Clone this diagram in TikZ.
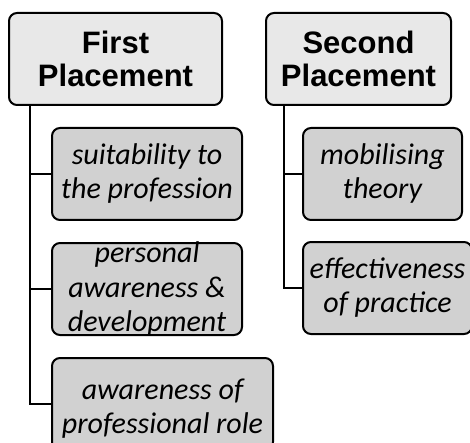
\documentclass[tikz,border=0pt]{standalone}
\usepackage{fontspec}
\setmainfont{Carlito}
\newfontfamily\headfont{Liberation Sans}
\usepackage{tikz}
\usetikzlibrary{positioning}

\begin{document}
\begin{tikzpicture}[x=1pt, y=-1pt,
    placement/.style={draw=black, line width=2pt, rounded corners=8pt,
      fill=black!9, minimum height=92pt, inner sep=0pt, align=center,
      font=\fontsize{31}{33}\selectfont\headfont\bfseries},
    theme/.style={draw=black, line width=2pt, rounded corners=8pt,
      fill=black!18, minimum height=92pt, inner sep=0pt},
    themetext/.style={align=center, inner sep=0pt, text=black,
      font=\fontsize{30}{34}\selectfont\itshape},
    branch/.style={line width=2.2pt}]
  \clip (0,0) rectangle (470,443);

  % placements
  \node[placement, minimum width=213pt] (first) at (115.5,59) {First\\Placement};
  \node[placement, minimum width=185pt] (second) at (358.5,59) {Second\\Placement};

  % themes, first placement
  \node[theme, minimum width=190pt] (suit) at (147,174) {};
  \node[theme, minimum width=190pt] (aware) at (147,289) {};
  \node[theme, minimum width=221pt] (role) at (162.5,404) {};

  % themes, second placement
  \node[theme, minimum width=159pt] (theory) at (382.5,174) {};
  \node[theme, minimum width=169pt] (practice) at (387.5,288) {};

  % branches
  \draw[branch] ([xshift=22pt]first.south west) |- (suit.west);
  \draw[branch] ([xshift=22pt]first.south west) |- (aware.west);
  \draw[branch] ([xshift=22pt]first.south west) |- (role.west);
  \draw[branch] ([xshift=19pt]second.south west) |- (theory.west);
  \draw[branch] ([xshift=19pt]second.south west) |- (practice.west);

  % labels
  \node[themetext] at (suit) {suitability to\\the profession};
  \node[themetext] at (aware) {personal\\awareness \&\\development};
  \node[themetext, yshift=-5pt] at (role) {awareness of\\professional role};
  \node[themetext] at (theory) {mobilising\\theory};
  \node[themetext] at (practice) {effectiveness\\of practice};
\end{tikzpicture}
\end{document}
